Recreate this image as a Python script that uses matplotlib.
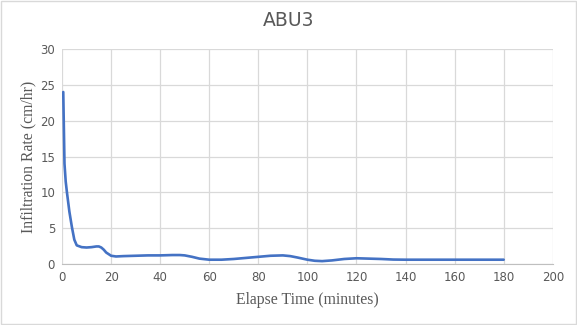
import matplotlib
matplotlib.use("Agg")
import matplotlib.pyplot as plt

# Tiempo transcurrido (min) y tasa de infiltracion (cm/hr)
elapsed_min = [0.5, 1, 1.5, 2, 3, 4, 5, 6, 8, 10, 12, 14, 15, 16, 17, 18, 20,
               22, 25, 30, 35, 40, 45, 48, 50, 53, 56, 60, 65, 70, 75, 80, 85,
               90, 93, 96, 100, 103, 106, 110, 115, 120, 125, 130, 135, 140,
               150, 160, 170, 180]
infil_rate = [24.0, 14.0, 11.5, 10.0, 7.3, 5.2, 3.4, 2.6, 2.35, 2.3, 2.35, 2.45,
              2.45, 2.3, 2.0, 1.6, 1.15, 1.05, 1.1, 1.15, 1.2, 1.2, 1.25, 1.25,
              1.2, 1.0, 0.75, 0.6, 0.6, 0.7, 0.85, 1.0, 1.15, 1.2, 1.1, 0.9,
              0.6, 0.45, 0.4, 0.5, 0.7, 0.8, 0.75, 0.7, 0.62, 0.6, 0.6, 0.6,
              0.6, 0.6]

x_ticks = list(range(0, 201, 20))
y_ticks = list(range(0, 31, 5))

fig = plt.figure(figsize=(5.77, 3.25), dpi=100, facecolor="white")
ax = fig.add_axes([0.1075, 0.1877, 0.8505, 0.6615])

ax.plot(elapsed_min, infil_rate, color="#4472c4", linewidth=1.9,
        solid_joinstyle="round", solid_capstyle="round", zorder=3)

ax.set_xlim(0, 200)
ax.set_ylim(0, 30)
ax.set_xticks(x_ticks)
ax.set_yticks(y_ticks)
ax.grid(True, color="#d9d9d9", linewidth=0.9, zorder=0)
ax.set_axisbelow(True)
for side in ["top", "right", "left"]:
    ax.spines[side].set_visible(False)
ax.spines["bottom"].set_color("#bfbfbf")
ax.tick_params(length=0, labelsize=8.5, labelcolor="#595959", pad=5)

ax.set_xlabel("Elapse Time (minutes)", family="Liberation Serif", fontsize=11.3,
              color="#595959", labelpad=6)
ax.set_ylabel("Infiltration Rate (cm/hr)", family="Liberation Serif", fontsize=11.3,
              color="#595959", labelpad=3)
fig.text(0.5, 0.937, "ABU3", ha="center", va="center", fontsize=13.5,
         color="#595959")

# borde exterior del area del grafico
fig.patches.append(plt.Rectangle((0.001, 0.002), 0.997, 0.995, transform=fig.transFigure,
                                 fill=False, edgecolor="#d9d9d9", linewidth=1))

fig.savefig("out.png", dpi=100)
